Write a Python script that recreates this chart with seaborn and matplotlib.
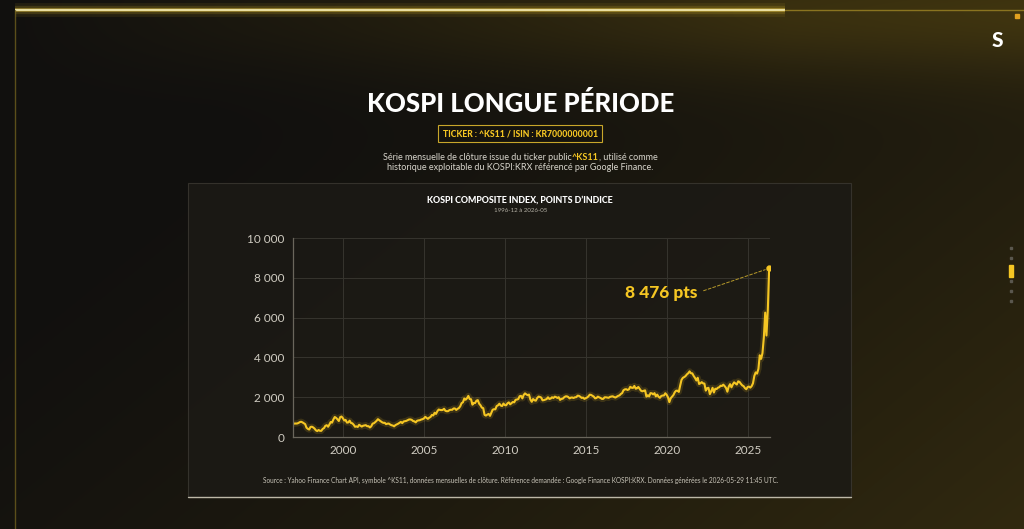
import pandas as pd
import numpy as np
import matplotlib.pyplot as plt
import matplotlib.dates as mdates
import seaborn as sns
from matplotlib.patches import Rectangle
from matplotlib.ticker import FuncFormatter

# cloture mensuelle du KOSPI, 1996-12 -> 2026-05
kospi_1996 = [651]
kospi_1997 = [676, 678, 678, 703, 745, 766, 737, 695, 647, 470, 408, 376]
kospi_1998 = [506, 516, 482, 423, 337, 298, 352, 311, 311, 405, 447, 562]
kospi_1999 = [593, 516, 623, 753, 721, 884, 1005, 960, 887, 803, 1001, 1028]
kospi_2000 = [943, 829, 861, 725, 731, 821, 705, 688, 613, 514, 532, 504]
kospi_2001 = [615, 568, 523, 566, 581, 595, 541, 545, 479, 536, 672, 693]
kospi_2002 = [752, 819, 895, 846, 796, 743, 712, 714, 646, 669, 676, 628]
kospi_2003 = [592, 575, 535, 600, 633, 669, 714, 760, 697, 779, 796, 810]
kospi_2004 = [848, 880, 883, 862, 803, 785, 735, 815, 835, 843, 878, 895]
kospi_2005 = [932, 1011, 965, 912, 970, 1008, 1111, 1083, 1221, 1158, 1297, 1379]
kospi_2006 = [1360, 1352, 1359, 1419, 1317, 1295, 1298, 1352, 1371, 1364, 1432, 1434]
kospi_2007 = [1360, 1417, 1453, 1543, 1700, 1744, 1933, 1873, 1946, 2065, 1906, 1897]
kospi_2008 = [1625, 1711, 1704, 1825, 1853, 1674, 1595, 1474, 1449, 1113, 1076, 1124]
kospi_2009 = [1162, 1063, 1206, 1369, 1396, 1390, 1557, 1592, 1673, 1581, 1555, 1682]
kospi_2010 = [1602, 1594, 1692, 1741, 1641, 1698, 1759, 1742, 1872, 1882, 1904, 2051]
kospi_2011 = [2069, 1939, 2106, 2192, 2142, 2100, 2133, 1880, 1769, 1909, 1847, 1825]
kospi_2012 = [1955, 2030, 2014, 1982, 1843, 1854, 1881, 1905, 1996, 1912, 1932, 1997]
kospi_2013 = [1961, 2026, 2005, 1963, 2001, 1863, 1914, 1926, 1997, 2040, 2044, 2011]
kospi_2014 = [1941, 1980, 1985, 1961, 1995, 2002, 2076, 2068, 2020, 1964, 1981, 1916]
kospi_2015 = [1949, 1986, 2041, 2127, 2115, 2074, 2030, 1941, 1963, 2029, 1991, 1961]
kospi_2016 = [1912, 1917, 1996, 1994, 1983, 1970, 2016, 2034, 2044, 2008, 1983, 2026]
kospi_2017 = [2068, 2092, 2160, 2205, 2347, 2392, 2402, 2363, 2394, 2523, 2476, 2467]
kospi_2018 = [2566, 2427, 2446, 2515, 2423, 2326, 2295, 2323, 2343, 2030, 2097, 2041]
kospi_2019 = [2205, 2195, 2141, 2204, 2041, 2130, 2025, 1968, 2063, 2083, 2087, 2197]
kospi_2020 = [2119, 1987, 1754, 1947, 2030, 2108, 2249, 2326, 2327, 2267, 2591, 2873]
kospi_2021 = [2976, 3013, 3061, 3147, 3204, 3297, 3202, 3199, 3068, 2970, 2839, 2977]
kospi_2022 = [2663, 2699, 2757, 2695, 2685, 2332, 2451, 2472, 2155, 2293, 2472, 2236]
kospi_2023 = [2425, 2412, 2476, 2501, 2577, 2564, 2632, 2556, 2465, 2277, 2535, 2655]
kospi_2024 = [2497, 2642, 2747, 2692, 2636, 2798, 2770, 2674, 2593, 2556, 2456, 2399]
kospi_2025 = [2517, 2532, 2481, 2556, 2698, 3072, 3245, 3186, 3425, 4107, 3927, 4214]
kospi_2026 = [5000, 6250, 5100, 6400, 8476]

annees = [kospi_1996, kospi_1997, kospi_1998, kospi_1999, kospi_2000, kospi_2001,
          kospi_2002, kospi_2003, kospi_2004, kospi_2005, kospi_2006, kospi_2007,
          kospi_2008, kospi_2009, kospi_2010, kospi_2011, kospi_2012, kospi_2013,
          kospi_2014, kospi_2015, kospi_2016, kospi_2017, kospi_2018, kospi_2019,
          kospi_2020, kospi_2021, kospi_2022, kospi_2023, kospi_2024, kospi_2025,
          kospi_2026]
valeurs = [v for a in annees for v in a]
dates = pd.date_range('1996-12-01', periods=len(valeurs), freq='MS')
df = pd.DataFrame({'date': dates, 'kospi': valeurs})

annees_ticks = [2000, 2005, 2010, 2015, 2020, 2025]
y_ticks = [0, 2000, 4000, 6000, 8000, 10000]

JAUNE = '#F5C623'
GRIS = '#D8D5CC'
FONT = ['Lato', 'DejaVu Sans']

sns.set_style('dark')
plt.rcParams['font.family'] = FONT

fig = plt.figure(figsize=(10.24, 5.29), dpi=100)
W, H = 1024, 529

# fond degrade
bg = fig.add_axes([0, 0, 1, 1], zorder=-10)
yy, xx = np.mgrid[0:H, 0:W]
xn, yn = xx / W, yy / H
base = np.array([17, 16, 14]) / 255
gold = np.array([68, 56, 16]) / 255
t = np.clip(0.55 * xn + 0.35 * yn - 0.18, 0, 1) ** 1.4
glow_top = np.exp(-((yn - 0.02) / 0.12) ** 2) * np.clip(xn * 1.3, 0, 1) * 0.65
t = np.clip(t + glow_top, 0, 1)
img = base[None, None, :] * (1 - t[..., None]) + gold[None, None, :] * t[..., None]
bg.imshow(img, extent=[0, 1, 0, 1], aspect='auto', origin='upper')
bg.set_xlim(0, 1)
bg.set_ylim(0, 1)
bg.axis('off')

# cadre
y_top = 1 - 10 / H
for lw, a in [(10, 0.08), (6, 0.15), (3, 0.35)]:
    bg.plot([15 / W, 785 / W], [y_top, y_top], color='#F0C830', lw=lw, alpha=a, solid_capstyle='butt')
bg.plot([15 / W, 785 / W], [y_top, y_top], color='#E8DDA0', lw=1.6, solid_capstyle='butt')
bg.plot([785 / W, 1], [y_top, y_top], color='#8A7420', lw=1.0)
bg.plot([15 / W, 15 / W], [0, y_top], color='#6E5E1E', lw=1.0, alpha=0.8)
bg.plot([1017 / W], [1 - 16 / H], marker='s', ms=2.5, color='#E0A020')

# panneau du graphique
bg.add_patch(Rectangle((188 / W, 1 - 497 / H), (851 - 188) / W, (497 - 183) / H,
                       facecolor='#1C1A16', edgecolor='#3A3730', lw=0.8, alpha=0.85))
bg.plot([188 / W, 851 / W], [1 - 497 / H, 1 - 497 / H], color='#BDB8A8', lw=1.0)

# decoration droite
for yp in [248, 258, 281, 291, 301]:
    bg.plot([1011 / W], [1 - yp / H], marker='s', ms=1.5, color='#5A574E')
bg.add_patch(Rectangle((1009 / W, 1 - 277 / H), 4 / W, 12 / H, color=JAUNE))
fig.text(997 / W, 1 - 40 / H, 'S', color='white', fontsize=15, fontweight='black',
         ha='center', va='center')

# titres
fig.text(0.508, 1 - 104 / H, 'KOSPI LONGUE PÉRIODE', color='white', fontsize=18.5,
         fontweight='black', ha='center', va='center')
fig.text(0.508, 1 - 133.5 / H, 'TICKER : ^KS11 / ISIN : KR7000000001', color=JAUNE,
         fontsize=6.2, fontweight='black', ha='center', va='center',
         bbox=dict(boxstyle='square,pad=0.5', facecolor='#15130E', edgecolor='#C8A62A', lw=0.8))

# premiere ligne du sous-titre avec ^KS11 en jaune
morceaux = [('Série mensuelle de clôture issue du ticker public', GRIS, 'normal'),
            ('^KS11', JAUNE, 'bold'),
            (', utilisé comme', GRIS, 'normal')]
renderer = fig.canvas.get_renderer()
txts = [fig.text(0, 1 - 157 / H, m, color=c, fontsize=6.5, fontweight=w, va='center')
        for m, c, w in morceaux]
largeurs = [tx.get_window_extent(renderer).width / W for tx in txts]
x0 = 0.508 - sum(largeurs) / 2
for tx, lg in zip(txts, largeurs):
    tx.set_x(x0)
    x0 += lg
fig.text(0.508, 1 - 168 / H, 'historique exploitable du KOSPI:KRX référencé par Google Finance.',
         color=GRIS, fontsize=6.5, ha='center', va='center')
fig.text(0.508, 1 - 200 / H, 'KOSPI COMPOSITE INDEX, POINTS D\u2019INDICE', color='white',
         fontsize=6.4, fontweight='black', ha='center', va='center')
fig.text(0.508, 1 - 211 / H, '1996-12 à 2026-05', color='#B5B1A6', fontsize=4.4,
         ha='center', va='center')
fig.text(0.508, 1 - 480 / H,
         'Source : Yahoo Finance Chart API, symbole ^KS11, données mensuelles de clôture. '
         'Référence demandée : Google Finance KOSPI:KRX. Données générées le 2026-05-29 11:45 UTC.',
         color='#C8C4B8', fontsize=4.7, ha='center', va='center')

# graphique
ax = fig.add_axes([293 / W, 1 - 437 / H, (770 - 293) / W, (437 - 238) / H])
ax.set_facecolor('none')
sns.lineplot(data=df, x='date', y='kospi', ax=ax, color=JAUNE, lw=4.5, alpha=0.15)
sns.lineplot(data=df, x='date', y='kospi', ax=ax, color=JAUNE, lw=1.5)
ax.plot(df['date'].iloc[-1], df['kospi'].iloc[-1], 'o', color=JAUNE, ms=3.5)

ax.set_xlim(pd.Timestamp('1996-12-01'), pd.Timestamp('2026-05-20'))
ax.set_ylim(0, 10000)
ax.set_yticks(y_ticks)
ax.yaxis.set_major_formatter(FuncFormatter(lambda v, p: f'{int(v):,}'.replace(',', ' ')))
ax.set_xticks([pd.Timestamp(f'{a}-01-01') for a in annees_ticks])
ax.xaxis.set_major_formatter(mdates.DateFormatter('%Y'))
ax.set_xlabel('')
ax.set_ylabel('')
ax.grid(True, color='#36342E', lw=0.7)
ax.tick_params(colors='#D0CCC2', labelsize=8.5, length=0, pad=6)
for s in ['top', 'right']:
    ax.spines[s].set_visible(False)
for s in ['left', 'bottom']:
    ax.spines[s].set_visible(True)
    ax.spines[s].set_color('#6A665C')
    ax.spines[s].set_linewidth(0.9)

ax.annotate('8 476 pts', xy=(df['date'].iloc[-1], df['kospi'].iloc[-1]),
            xytext=(pd.Timestamp('2021-12-01'), 7250), ha='right', va='center',
            color=JAUNE, fontsize=12.5, fontweight='black',
            arrowprops=dict(arrowstyle='-', color='#B89A2A', ls=(0, (3, 2)), lw=0.7,
                            relpos=(1, 0.5), shrinkA=2, shrinkB=3))

fig.savefig('out.png', dpi=100)
